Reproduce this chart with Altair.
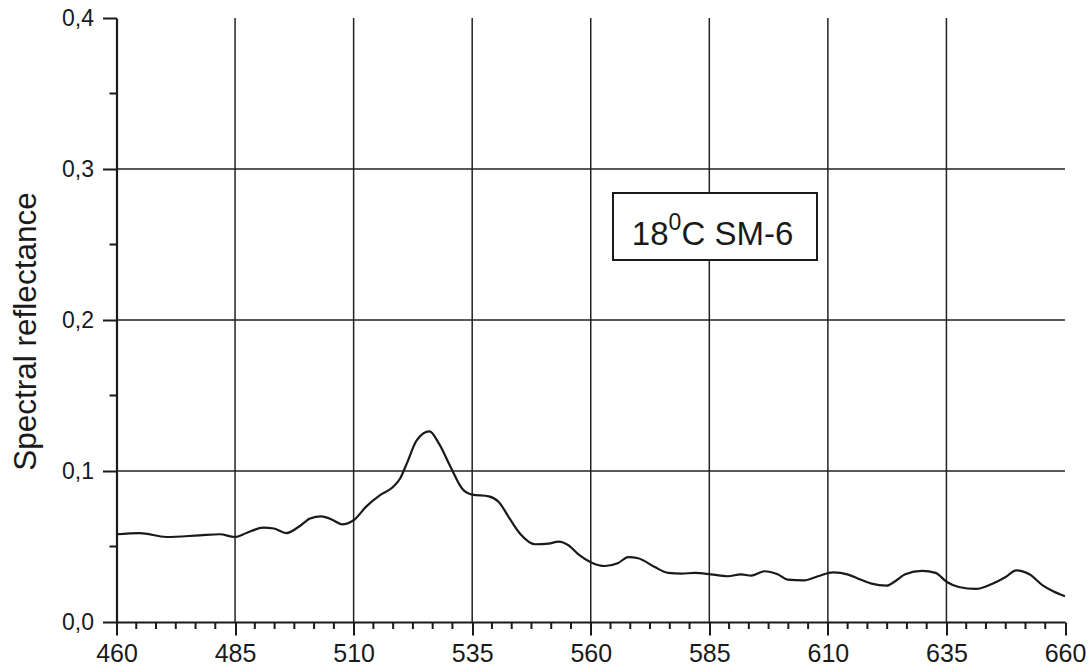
import altair as alt
import pandas as pd

# Spectral reflectance of sample SM-6 at 18 °C
wavelength = [460, 464.9, 470.5, 477.5, 481.8, 484.9, 487.4, 490.9, 493.2, 495.8,
              498.6, 500.8, 503.2, 505.7, 507.5, 510, 512.7, 515.5, 518.3, 519.8,
              521.2, 523.3, 526.0, 528.0, 530.4, 532.9, 535, 538.5, 540.6, 542.7,
              545.1, 548.3, 551.1, 553.2, 555.3, 557.4, 560.2, 563, 565.8, 567.9,
              570, 573.5, 576.3, 579.1, 582, 585.3, 588.9, 591.7, 593.8, 596.6,
              599.4, 601.5, 605, 607.9, 611.1, 614.3, 616.4, 619.2, 622.4, 624.2,
              626.3, 629.9, 632.7, 635.1, 637.6, 641.2, 644.7, 647.5, 649.7, 652.5,
              655.3, 657.4, 660]
reflectance = [0.0581, 0.0589, 0.0563, 0.0574, 0.0581, 0.0563, 0.0589, 0.0625, 0.0619, 0.0589,
               0.0634, 0.0685, 0.0700, 0.0674, 0.0647, 0.0674, 0.0766, 0.0839, 0.0894, 0.0950,
               0.1049, 0.1203, 0.1262, 0.1181, 0.1030, 0.0883, 0.0844, 0.0832, 0.0795, 0.0695,
               0.0585, 0.0515, 0.0519, 0.0532, 0.0508, 0.0448, 0.0393, 0.0371, 0.0391, 0.0430,
               0.0422, 0.0364, 0.0325, 0.0321, 0.0325, 0.0316, 0.0303, 0.0316, 0.0307, 0.0336,
               0.0316, 0.0281, 0.0276, 0.0303, 0.0329, 0.0314, 0.0287, 0.0254, 0.0241, 0.0270,
               0.0316, 0.0338, 0.0325, 0.0265, 0.0232, 0.0219, 0.0254, 0.0298, 0.0342, 0.0316,
               0.0243, 0.0205, 0.0170]

x_major = [460, 485, 510, 535, 560, 585, 610, 635, 660]
y_major = [0.0, 0.1, 0.2, 0.3, 0.4]
x_grid = [485, 510, 535, 560, 585, 610, 635]
y_grid = [0.1, 0.2, 0.3]
y_minor = [0.05, 0.15, 0.25, 0.35]
# five minor ticks between neighbouring major ticks on the wavelength axis
x_minor = [a + (b - a) * k / 6 for a, b in zip(x_major[:-1], x_major[1:]) for k in range(1, 6)]

W, H = 948.5, 604
FONT = "Liberation Sans"
INK = "#1a1a1a"

xs = alt.Scale(domain=[460, 660], nice=False, zero=False)
ys = alt.Scale(domain=[0, 0.4], nice=False)

x_axis = alt.Axis(values=x_major, grid=False, title=None, tickSize=13, tickWidth=2,
                  tickColor=INK, domainColor=INK, domainWidth=2.2,
                  labelFont=FONT, labelFontSize=25, labelColor=INK, labelPadding=6,
                  labelFlush=False)
y_axis = alt.Axis(values=y_major, grid=False, tickSize=14, tickWidth=2,
                  tickColor=INK, domainColor=INK, domainWidth=2.2,
                  labelFont=FONT, labelFontSize=23, labelColor=INK, labelPadding=9,
                  labelExpr="replace(format(datum.value, '.1f'), '.', ',')",
                  title="Spectral reflectance", titleFont=FONT, titleFontSize=31.5,
                  titleFontWeight="normal", titleColor=INK,
                  titleX=-74, titleY=313, titleAngle=270,
                  titleAlign="center", titleBaseline="bottom")

curve_df = pd.DataFrame({"wl": wavelength, "r": reflectance})

vgrid = alt.Chart(pd.DataFrame({"g": x_grid})).mark_rule(color="#222222", strokeWidth=1.5).encode(
    x=alt.X("g:Q", scale=xs, axis=x_axis), y=alt.value(0), y2=alt.value(H)
)
hgrid = alt.Chart(pd.DataFrame({"g": y_grid})).mark_rule(color="#222222", strokeWidth=1.5).encode(
    y=alt.Y("g:Q", scale=ys, axis=y_axis), x=alt.value(0), x2=alt.value(W)
)
xminor = alt.Chart(pd.DataFrame({"m": x_minor})).mark_rule(color=INK, strokeWidth=2).encode(
    x=alt.X("m:Q", scale=xs, axis=x_axis), y=alt.value(H), y2=alt.value(H + 7)
)
yminor = alt.Chart(pd.DataFrame({"m": y_minor})).mark_rule(color=INK, strokeWidth=2).encode(
    y=alt.Y("m:Q", scale=ys, axis=y_axis), x=alt.value(-7), x2=alt.value(0)
)
curve = alt.Chart(curve_df).mark_line(color=INK, strokeWidth=2.2, interpolate="monotone").encode(
    x=alt.X("wl:Q", scale=xs, axis=x_axis),
    y=alt.Y("r:Q", scale=ys, axis=y_axis),
)

one = alt.Data(values=[{"k": 1}])
box = alt.Chart(one).mark_rect(fill="white", stroke=INK, strokeWidth=2).encode(
    x=alt.value(496.5), x2=alt.value(700.5), y=alt.value(175), y2=alt.value(242)
)
lab_a = alt.Chart(one).mark_text(font=FONT, fontSize=33, color=INK, align="right",
                                 baseline="alphabetic").encode(
    x=alt.value(552), y=alt.value(227), text=alt.value("18"))
lab_b = alt.Chart(one).mark_text(font=FONT, fontSize=23, color=INK, align="left",
                                 baseline="alphabetic").encode(
    x=alt.value(552), y=alt.value(212), text=alt.value("0"))
lab_c = alt.Chart(one).mark_text(font=FONT, fontSize=33, color=INK, align="left",
                                 baseline="alphabetic").encode(
    x=alt.value(565), y=alt.value(227), text=alt.value("C SM-6"))

chart = alt.layer(vgrid, hgrid, xminor, yminor, curve, box, lab_a, lab_b, lab_c).properties(
    width=W, height=H,
    autosize=alt.AutoSizeParams(type="none"),
    padding={"left": 116.5, "top": 18, "right": 23, "bottom": 47},
    background="white",
).configure_view(stroke=None)

chart.save("out.html", embed_options={"renderer": "svg", "actions": False})
